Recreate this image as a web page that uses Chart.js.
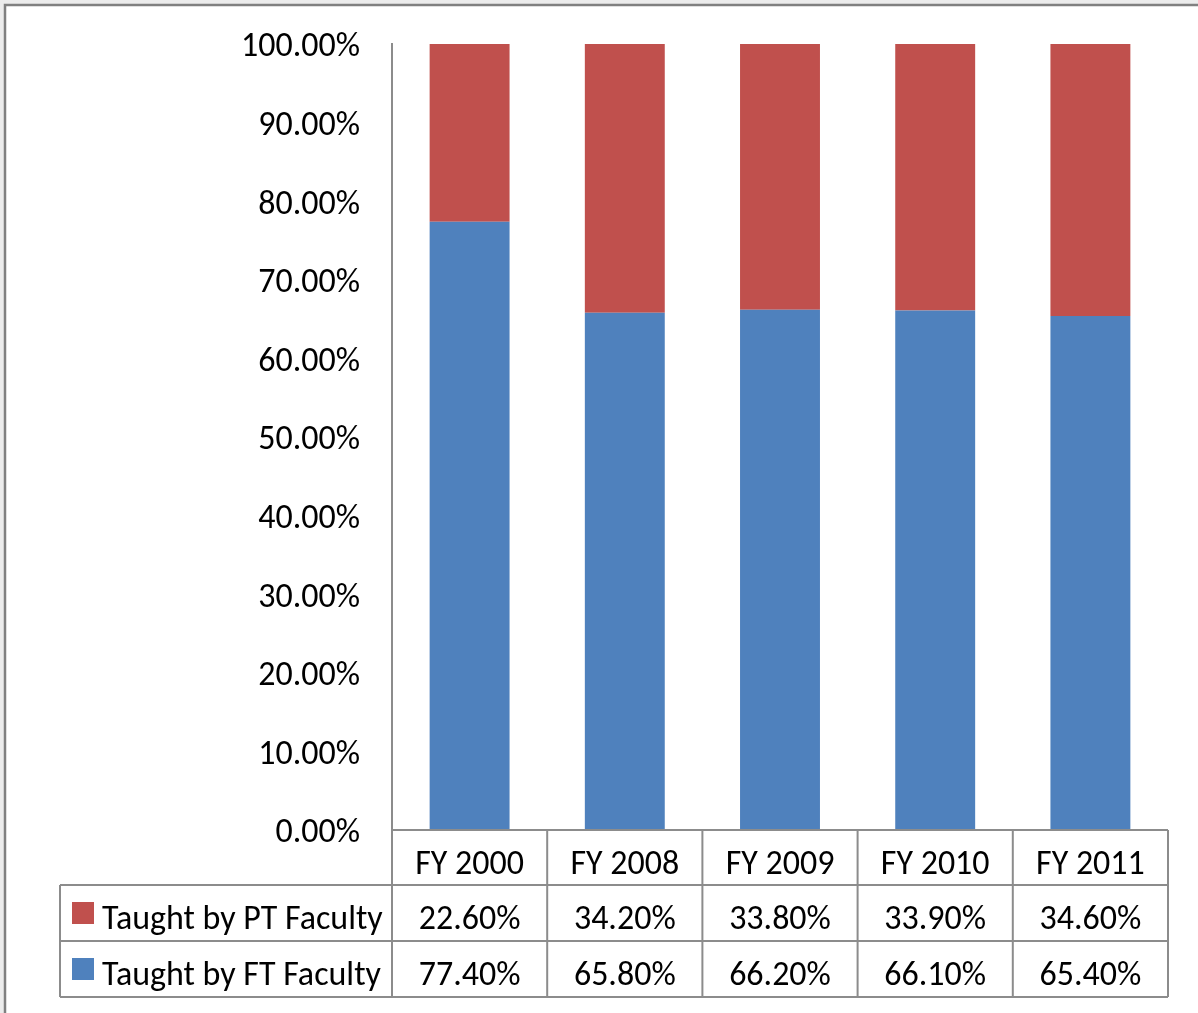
<!DOCTYPE html>
<html>
<head>
<meta charset="utf-8">
<script src="https://cdn.jsdelivr.net/npm/chart.js@4/dist/chart.umd.min.js"></script>
<style>
  html, body { margin: 0; padding: 0; background: #ffffff; }
  #wrap { width: 1198px; height: 1013px; position: relative; }
  canvas { display: block; }
</style>
</head>
<body>
<div id="wrap"><canvas id="c" width="1198" height="1013"></canvas></div>
<script>
// ---- data ----
const categories = ['FY 2000', 'FY 2008', 'FY 2009', 'FY 2010', 'FY 2011'];
const seriesNames = ['Taught by PT Faculty', 'Taught by FT Faculty'];
const ptValues = [22.6, 34.2, 33.8, 33.9, 34.6];
const ftValues = [77.4, 65.8, 66.2, 66.1, 65.4];
const yTicks = [0, 10, 20, 30, 40, 50, 60, 70, 80, 90, 100];

// ---- style ----
const RED = '#C0504D';
const BLUE = '#4F81BD';
const LINE = '#8c8c8c';
const FAMILY = 'Carlito, Calibri, "Open Sans", sans-serif';

function fitSize(text, target) {
  const c = document.createElement('canvas').getContext('2d');
  c.font = '100px ' + FAMILY;
  return 100 * target / c.measureText(text).width;
}
const FS = fitSize('100.00%', 119);
const fmt = v => v.toFixed(2) + '%';

const frame = {
  id: 'frame',
  beforeDraw(chart) {
    const ctx = chart.ctx;
    ctx.save();
    ctx.fillStyle = '#ececec';
    ctx.fillRect(0, 0, chart.width, chart.height);
    ctx.fillStyle = '#ffffff';
    ctx.fillRect(5, 5, chart.width, chart.height);
    ctx.strokeStyle = '#808080';
    ctx.lineWidth = 2.5;
    ctx.beginPath();
    ctx.moveTo(5, chart.height);
    ctx.lineTo(5, 5);
    ctx.lineTo(chart.width, 5);
    ctx.stroke();
    ctx.restore();
  }
};

const dataTable = {
  id: 'dataTable',
  afterDraw(chart) {
    const ctx = chart.ctx;
    const xs = chart.scales.x;
    const { left, right, bottom } = chart.chartArea;
    const n = categories.length;
    const colW = (right - left) / n;
    const hdrBottom = bottom + 55;
    const r1Bottom = hdrBottom + 56;
    const r2Bottom = r1Bottom + 56;
    const tableLeft = 60;

    ctx.save();
    ctx.strokeStyle = LINE;
    ctx.lineWidth = 2;
    ctx.beginPath();
    ctx.moveTo(left, bottom); ctx.lineTo(right, bottom);
    [hdrBottom, r1Bottom, r2Bottom].forEach(y => { ctx.moveTo(tableLeft, y); ctx.lineTo(right, y); });
    ctx.moveTo(tableLeft, hdrBottom); ctx.lineTo(tableLeft, r2Bottom);
    for (let i = 0; i <= n; i++) {
      const x = left + i * colW;
      ctx.moveTo(x, bottom); ctx.lineTo(x, r2Bottom);
    }
    ctx.stroke();

    ctx.fillStyle = '#000000';
    ctx.font = FS + 'px ' + FAMILY;
    ctx.textAlign = 'center';
    ctx.textBaseline = 'middle';
    const hy = (bottom + hdrBottom) / 2 + 8;
    const y1 = (hdrBottom + r1Bottom) / 2 + 8;
    const y2 = (r1Bottom + r2Bottom) / 2 + 8;
    categories.forEach((c, i) => {
      const cx = xs.getPixelForValue(i);
      ctx.fillText(c, cx, hy);
      ctx.fillText(fmt(ptValues[i]), cx, y1);
      ctx.fillText(fmt(ftValues[i]), cx, y2);
    });
    ctx.textAlign = 'left';
    [[RED, seriesNames[0], y1], [BLUE, seriesNames[1], y2]].forEach(([col, name, y]) => {
      ctx.fillStyle = col;
      ctx.fillRect(72, y - 19, 22, 22);
      ctx.fillStyle = '#000000';
      ctx.fillText(name, 102, y);
    });
    ctx.restore();
  }
};

new Chart(document.getElementById('c'), {
  type: 'bar',
  data: {
    labels: categories,
    datasets: [
      { label: seriesNames[1], data: ftValues, backgroundColor: BLUE },
      { label: seriesNames[0], data: ptValues, backgroundColor: RED }
    ]
  },
  options: {
    responsive: false,
    animation: false,
    events: [],
    layout: { padding: { left: 0, top: 44, right: 30, bottom: 183 } },
    datasets: { bar: { categoryPercentage: 1.0, barPercentage: 0.515 } },
    plugins: { legend: { display: false }, tooltip: { enabled: false } },
    scales: {
      x: { display: false, stacked: true },
      y: {
        stacked: true,
        min: 0, max: 100,
        afterBuildTicks: s => { s.ticks = yTicks.map(v => ({ value: v })); },
        afterFit: s => { s.width = 392; s.paddingTop = 0; s.paddingBottom = 0; },
        grid: { display: false, drawTicks: false },
        border: { display: true, color: LINE, width: 2 },
        ticks: {
          padding: 32,
          labelOffset: 4,
          color: '#000000',
          font: { family: FAMILY, size: FS },
          callback: v => fmt(v)
        }
      }
    }
  },
  plugins: [frame, dataTable]
});
</script>
</body>
</html>
